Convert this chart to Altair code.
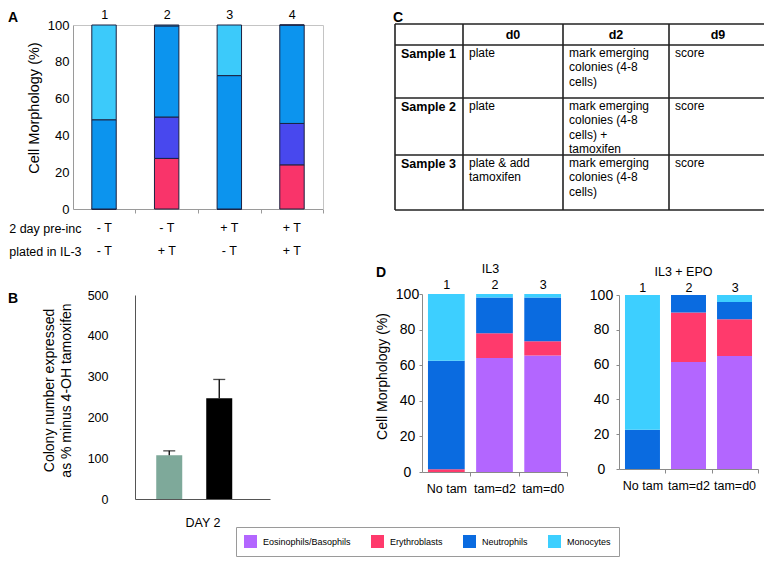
import json
import altair as alt
import pandas as pd

FONT = "Liberation Sans"

# ---------------- data ----------------
# Panel A
a_groups = ["1", "2", "3", "4"]
a_types = ["Erythroblasts", "Eosinophils/Basophils", "Neutrophils", "Monocytes"]
a_erythro = [0.0, 27.5, 0.0, 24.0]
a_eosbaso = [0.0, 22.5, 0.0, 22.5]
a_neutro = [48.5, 49.5, 72.5, 53.5]
a_mono = [51.5, 0.5, 27.5, 0.0]
a_colors = ["#f9346a", "#4848ee", "#0c94ee", "#3ccafa"]
a_row_names = ["2 day pre-inc", "plated in IL-3"]
a_pre_inc = ["- T", "- T", "+ T", "+ T"]
a_plated = ["- T", "+ T", "- T", "+ T"]
a_y_ticks = [0, 20, 40, 60, 80, 100]
a_y_title = "Cell Morphology (%)"

# Panel B
b_series = ["minus 4-OH tamoxifen", "plus 4-OH tamoxifen"]
b_values = [107, 247]
b_upper = [118, 293]
b_colors = ["#7ea99a", "#000000"]
b_y_ticks = [0, 100, 200, 300, 400, 500]
b_x_title = "DAY 2"
b_y_title = ["Colony number expressed", "as % minus 4-OH tamoxifen"]

# Panel C
c_headers = ["d0", "d2", "d9"]
c_samples = ["Sample 1", "Sample 2", "Sample 3"]
c_d0 = ["plate", "plate", "plate & add\ntamoxifen"]
c_d2 = ["mark emerging\ncolonies (4-8\ncells)",
        "mark emerging\ncolonies (4-8\ncells) +\ntamoxifen",
        "mark emerging\ncolonies (4-8\ncells)"]
c_d9 = ["score", "score", "score"]
c_col_edges = [0, 68, 168, 274, 372]
c_row_edges = [0, 21, 74, 131, 186]

# Panel D
d_conditions = ["No tam", "tam=d2", "tam=d0"]
d_numbers = ["1", "2", "3"]
d_types = ["Eosinophils/Basophils", "Erythroblasts", "Neutrophils", "Monocytes"]
d_colors = ["#b366ff", "#ff3a6c", "#0a6be0", "#3dcfff"]
il3_eos = [0.0, 64.0, 65.5]
il3_ery = [1.5, 14.0, 8.0]
il3_neu = [61.0, 20.0, 24.5]
il3_mon = [37.5, 2.0, 2.0]
epo_eos = [0.0, 61.5, 65.0]
epo_ery = [0.0, 28.5, 21.0]
epo_neu = [22.5, 10.0, 10.0]
epo_mon = [77.5, 0.0, 4.0]
d_y_ticks = [0, 20, 40, 60, 80, 100]
d_titles = ["IL3", "IL3 + EPO"]
d_y_title = "Cell Morphology (%)"
panel_letters = ["A", "B", "C", "D"]


def stacked(cats, types, series):
    rows = []
    for j, t in enumerate(types):
        for i, c in enumerate(cats):
            rows.append({"cat": c, "type": t, "order": j, "value": series[j][i]})
    return pd.DataFrame(rows)


W, H = 756, 553
AX = "#9a9a9a"

# ---------------- Panel A ----------------
a_df = stacked(a_groups, a_types, [a_erythro, a_eosbaso, a_neutro, a_mono])
a_pi, a_po, a_r = 0.61, 0.3, [65, 315]
a_step = (a_r[1] - a_r[0]) / (len(a_groups) - a_pi + 2 * a_po)
a_x = alt.Scale(domain=a_groups, range=a_r, paddingInner=a_pi, paddingOuter=a_po)
a_y = alt.Scale(domain=[0, 100], range=[201, 17], nice=False)

a_bars = alt.Chart(a_df).mark_bar(stroke="#1c2140", strokeWidth=1).encode(
    x=alt.X("cat:N", scale=a_x, axis=alt.Axis(
        orient="bottom", offset=201 - H, labels=False, tickSize=4,
        tickOffset=a_step / 2, domainColor=AX, tickColor=AX, title=None, grid=False)),
    y=alt.Y("value:Q", stack="zero", scale=a_y, axis=alt.Axis(
        orient="left", offset=-65, values=a_y_ticks, tickSize=0, labelPadding=4,
        labelFontSize=13, domainColor=AX, grid=False, title=a_y_title,
        titleFontSize=14.5, titleFontWeight="normal", titleX=-39, titleY=99.5,
        titleAngle=-90, titleBaseline="middle", titleAlign="center")),
    color=alt.Color("type:N", scale=alt.Scale(domain=a_types, range=a_colors), legend=None),
    order=alt.Order("order:Q"),
)

a_rows_df = pd.DataFrame({
    "cat": a_groups * 2,
    "row": [a_row_names[0]] * 4 + [a_row_names[1]] * 4,
    "txt": a_pre_inc + a_plated,
})
a_rows = alt.Chart(a_rows_df).mark_text(fontSize=12.5).encode(
    x=alt.X("cat:N", scale=a_x, axis=alt.Axis(
        orient="top", offset=-17, ticks=False, tickSize=0, labelAngle=0,
        labelBaseline="alphabetic", labelPadding=7, labelFontSize=12.5,
        domainColor="#c4c4c4", title=None, grid=False)),
    y=alt.Y("row:N", scale=alt.Scale(domain=a_row_names, range=[208.5, 254.5],
                                     paddingInner=0, paddingOuter=0),
            axis=alt.Axis(orient="left", offset=-73, ticks=False, tickSize=0,
                          domain=False, labelPadding=0, labelFontSize=12.5, title=None)),
    text="txt:N",
)

a_border = alt.Chart(a_df).mark_point(opacity=0).encode(
    y=alt.Y("value:Q", scale=a_y, axis=alt.Axis(
        orient="right", offset=315 - W, labels=False, ticks=False,
        domainColor="#c4c4c4", title=None, grid=False)),
)

# ---------------- Panel B ----------------
b_df = pd.DataFrame({"series": b_series, "value": b_values, "upper": b_upper})
b_x = alt.Scale(domain=b_series, range=[127, 262], paddingInner=0.48,
                paddingOuter=0.59, align=0.36)
b_y = alt.Scale(domain=[0, 500], range=[491, 287], nice=False)

b_bars = alt.Chart(b_df).mark_bar().encode(
    x=alt.X("series:N", scale=b_x, axis=alt.Axis(
        orient="bottom", offset=491 - H, labels=False, ticks=False,
        domainColor="#555555", title=b_x_title, titleFontSize=12.5,
        titleFontWeight="normal", titleBaseline="middle", titleY=23, grid=False)),
    y=alt.Y("value:Q", scale=b_y, axis=alt.Axis(
        orient="left", offset=-127, values=b_y_ticks, tickSize=0, labelPadding=27,
        labelFontSize=12.5, domainColor="#555555", grid=False, title=b_y_title,
        titleFontSize=14, titleFontWeight="normal", titleX=-86, titleY=382,
        titleAngle=-90, titleBaseline="middle", titleAlign="center", titleLineHeight=17)),
    color=alt.Color("series:N", scale=alt.Scale(domain=b_series, range=b_colors), legend=None),
)
b_err = alt.Chart(b_df).mark_rule(color="black", strokeWidth=1.3).encode(
    x=alt.X("series:N", scale=b_x, axis=None),
    y=alt.Y("value:Q", scale=b_y, axis=None),
    y2="upper:Q",
)
b_cap = alt.Chart(b_df).mark_tick(color="black", size=12, thickness=1.3).encode(
    x=alt.X("series:N", scale=b_x, axis=None),
    y=alt.Y("upper:Q", scale=b_y, axis=None),
)

# ---------------- Panel C (table) ----------------
c_x = alt.Scale(domain=[c_col_edges[0], c_col_edges[-1]], range=[387, 759])
c_y = alt.Scale(domain=[c_row_edges[0], c_row_edges[-1]], range=[16, 202])
rule_rows = []
for e in c_row_edges:
    rule_rows.append({"x": c_col_edges[0], "x2": c_col_edges[-1], "y": e, "y2": e})
for e in c_col_edges:
    rule_rows.append({"x": e, "x2": e, "y": c_row_edges[0], "y2": c_row_edges[-1]})
c_rules = alt.Chart(pd.DataFrame(rule_rows)).mark_rule(color="#222222", strokeWidth=1.6).encode(
    x=alt.X("x:Q", scale=c_x, axis=None), x2="x2:Q",
    y=alt.Y("y:Q", scale=c_y, axis=None), y2="y2:Q",
)
head_df = pd.DataFrame({
    "x": [(c_col_edges[i + 1] + c_col_edges[i + 2]) / 2 for i in range(3)],
    "y": [(c_row_edges[0] + c_row_edges[1]) / 2] * 3,
    "t": c_headers,
})
c_head = alt.Chart(head_df).mark_text(fontSize=12.5, fontWeight="bold", baseline="middle").encode(
    x=alt.X("x:Q", scale=c_x, axis=None), y=alt.Y("y:Q", scale=c_y, axis=None), text="t:N")
samp_df = pd.DataFrame({"x": [c_col_edges[0]] * 3, "y": c_row_edges[1:4], "t": c_samples})
c_samp = alt.Chart(samp_df).mark_text(
    fontSize=12.5, fontWeight="bold", align="left", baseline="top", dx=6, dy=3).encode(
    x=alt.X("x:Q", scale=c_x, axis=None), y=alt.Y("y:Q", scale=c_y, axis=None), text="t:N")
cell_rows = []
for r in range(3):
    for ci, col in enumerate([c_d0, c_d2, c_d9]):
        cell_rows.append({"x": c_col_edges[ci + 1], "y": c_row_edges[r + 1], "t": col[r]})
c_cells = alt.Chart(pd.DataFrame(cell_rows)).mark_text(
    fontSize=12, align="left", baseline="top", dx=6, dy=3, lineBreak="\n", lineHeight=14.3).encode(
    x=alt.X("x:Q", scale=c_x, axis=None), y=alt.Y("y:Q", scale=c_y, axis=None), text="t:N")

# ---------------- Panel D ----------------
num_expr = json.dumps(d_numbers) + "[indexof(" + json.dumps(d_conditions) + ", datum.value)]"


def d_panel(series, xr, pi, po, y_range, legend, y_title, title, title_x, top_y, lab_pad):
    df = stacked(d_conditions, d_types, series)
    step = (xr[1] - xr[0]) / (len(d_conditions) - pi + 2 * po)
    xs = alt.Scale(domain=d_conditions, range=xr, paddingInner=pi, paddingOuter=po)
    ys = alt.Scale(domain=[0, 100], range=y_range, nice=False)
    yaxis_kw = dict(orient="left", offset=-xr[0], values=d_y_ticks, tickSize=3,
                    labelAlign="center", labelPadding=lab_pad, labelFontSize=14,
                    domainColor="#8a8a8a", tickColor="#8a8a8a", grid=False)
    if y_title:
        yaxis_kw.update(title=y_title, titleFontSize=14, titleFontWeight="normal",
                        titleX=-40, titleY=368, titleAngle=-90, titleBaseline="middle",
                        titleAlign="center")
    else:
        yaxis_kw.update(title=None)
    bars = alt.Chart(df).mark_bar().encode(
        x=alt.X("cat:N", scale=xs, axis=alt.Axis(
            orient="bottom", offset=y_range[0] - H, tickSize=4, tickOffset=step / 2,
            labelOffset=-step / 2, labelPadding=6, labelFontSize=12.5, labelAngle=0,
            domainColor="#8a8a8a", tickColor="#8a8a8a", title=None, grid=False)),
        y=alt.Y("value:Q", stack="zero", scale=ys, axis=alt.Axis(**yaxis_kw)),
        color=alt.Color("type:N", scale=alt.Scale(domain=d_types, range=d_colors), legend=legend),
        order=alt.Order("order:Q"),
    )
    top = alt.Chart(pd.DataFrame({"cat": d_conditions})).mark_point(opacity=0).encode(
        x=alt.X("cat:N", scale=xs, axis=alt.Axis(
            orient="top", offset=-top_y, domain=False, ticks=False, tickSize=0,
            labelAngle=0, labelBaseline="alphabetic", labelPadding=4, labelFontSize=12.5,
            labelExpr=num_expr, title=title, titleFontSize=12.5, titleFontWeight="normal",
            titleBaseline="alphabetic", titleY=-20, titleX=title_x, grid=False)),
    )
    return [bars, top]


d_legend = alt.Legend(orient="none", legendX=228, legendY=519, direction="horizontal",
                      title=None, symbolType="square", symbolSize=169, symbolStrokeWidth=0,
                      labelFontSize=9, labelOffset=6, columnPadding=20, padding=8,
                      strokeColor="#9a9a9a", fillColor="white")

d_left = d_panel([il3_eos, il3_ery, il3_neu, il3_mon], [414, 559], 0.237, 0.124,
                 [464, 286], d_legend, d_y_title, d_titles[0], 482, 284, 12)
d_right = d_panel([epo_eos, epo_ery, epo_neu, epo_mon], [611, 750], 0.24, 0.13,
                  [461, 287], None, None, d_titles[1], 675, 287, 15)

# ---------------- panel letters ----------------
letter_pos = {"A": (0, 13.5), "B": (0, 295), "C": (385, 13.5), "D": (368, 269)}
letters = []
for L in panel_letters:
    lx, ly = letter_pos[L]
    letters.append(
        alt.Chart(pd.DataFrame({"t": [L]})).mark_text(
            fontSize=14, fontWeight="bold", align="left", baseline="alphabetic").encode(
            text="t:N", x=alt.value(lx), y=alt.value(ly)))

chart = alt.layer(
    a_bars, a_rows, a_border,
    b_bars, b_err, b_cap,
    c_rules, c_head, c_samp, c_cells,
    *d_left, *d_right,
    *letters,
).resolve_scale(
    x="independent", y="independent", color="independent"
).properties(
    width=W, height=H, autosize=alt.AutoSizeParams(type="none"), padding=0
).configure(
    font=FONT
).configure_view(stroke=None).configure_axis(labelColor="black", titleColor="black")

chart.save("out.html", embed_options={"renderer": "svg", "actions": False})
